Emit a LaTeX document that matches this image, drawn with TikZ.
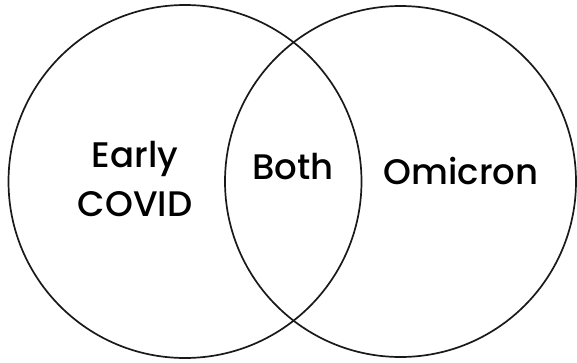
\documentclass[tikz,border=0pt]{standalone}
\usepackage{fontspec}
\setmainfont{Poppins}[UprightFont={* Medium}]
\begin{document}
\begin{tikzpicture}[x=1pt,y=-1pt,
  setring/.style={draw=black!90, line width=1.7pt},
  setlabel/.style={font=\fontsize{35.5}{49}\selectfont, text=black, align=center, inner sep=0pt}]
\useasboundingbox (0,0) rectangle (577,362);
% the two overlapping sets
\node[setring, circle, minimum size=353pt, inner sep=0pt] (early) at (185,181.5) {};
\node[setring, circle, minimum size=351pt, inner sep=0pt] (omicron) at (400.5,181.5) {};
% region labels
\node[setlabel] (earlytxt) at (135,179) {Early\\COVID};
\node[setlabel] (bothtxt) at (293,167) {Both};
\node[setlabel] (omitxt) at (461,171) {Omicron};
\end{tikzpicture}
\end{document}
